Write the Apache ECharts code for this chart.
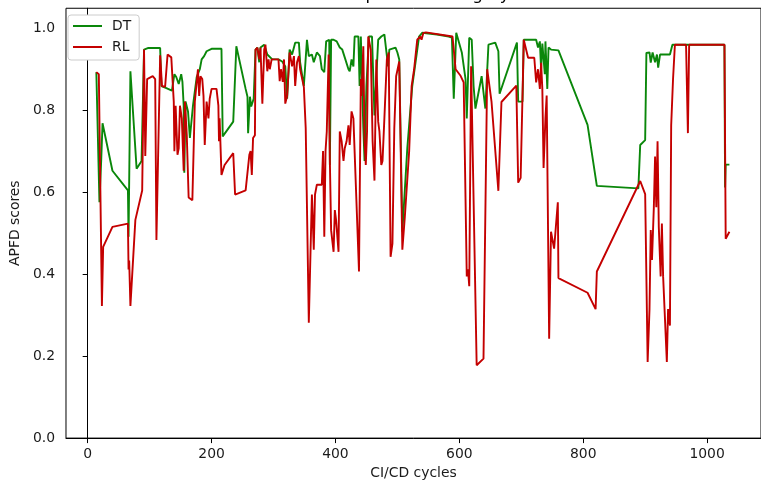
<!DOCTYPE html>
<html>
<head>
<meta charset="utf-8">
<script src="https://cdn.jsdelivr.net/npm/echarts@6/dist/echarts.min.js"></script>
<style>
  html, body { margin: 0; padding: 0; background: #fff; }
  #chart { width: 761px; height: 485px; }
</style>
</head>
<body>
<div id="chart"></div>
<script>
// APFD score per CI/CD cycle for the two prioritization strategies
const dtCycles = [14, 19, 22, 24, 40, 65, 66, 69, 79, 87, 91, 98, 117, 119, 127, 136, 140, 143, 147, 151,
  153, 155, 156, 158, 162, 165, 170, 176, 181, 184, 188, 192, 195, 200, 216, 218, 235, 240, 255, 258,
  259, 262, 264, 268, 271, 274, 277, 279, 285, 290, 298, 308, 314, 319, 322, 326, 330, 335, 341, 343,
  349, 354, 357, 362, 365, 370, 375, 378, 382, 385, 390, 391, 393, 397, 402, 407, 411, 415, 421, 423,
  426, 429, 431, 437, 439, 441, 445, 447, 450, 454, 459, 463, 469, 474, 479, 485, 487, 497, 500, 503,
  508, 516, 524, 535, 540, 564, 583, 588, 591, 595, 604, 610, 612, 616, 620, 623, 626, 636, 642, 647,
  658, 663, 665, 693, 695, 702, 704, 724, 727, 730, 732, 734, 738, 739, 742, 744, 748, 760, 807, 822,
  889, 892, 900, 902, 907, 909, 912, 916, 919, 921, 924, 940, 944, 1028, 1029, 1030, 1036];
const dtScores = [0.894, 0.576, 0.684, 0.769, 0.653, 0.605, 0.492, 0.896, 0.658, 0.677, 0.949, 0.953, 0.953, 0.860, 0.855, 0.849, 0.889, 0.882, 0.865, 0.889,
  0.870, 0.812, 0.648, 0.822, 0.798, 0.733, 0.812, 0.882, 0.901, 0.925, 0.933, 0.945, 0.942, 0.951, 0.951, 0.737, 0.773, 0.957, 0.853, 0.834,
  0.745, 0.834, 0.810, 0.829, 0.949, 0.954, 0.918, 0.954, 0.961, 0.937, 0.925, 0.925, 0.920, 0.908, 0.829, 0.949, 0.937, 0.966, 0.966, 0.918,
  0.860, 0.973, 0.933, 0.937, 0.918, 0.942, 0.933, 0.901, 0.894, 0.969, 0.973, 0.667, 0.973, 0.973, 0.969, 0.954, 0.949, 0.930, 0.901, 0.896,
  0.925, 0.908, 0.981, 0.981, 0.860, 0.981, 0.757, 0.677, 0.860, 0.981, 0.981, 0.788, 0.973, 0.981, 0.986, 0.908, 0.949, 0.954, 0.942, 0.925,
  0.504, 0.708, 0.860, 0.981, 0.990, 0.986, 0.981, 0.978, 0.829, 0.990, 0.942, 0.877, 0.781, 0.978, 0.973, 0.860, 0.805, 0.884, 0.805, 0.961,
  0.966, 0.945, 0.841, 0.966, 0.822, 0.822, 0.973, 0.973, 0.954, 0.969, 0.901, 0.964, 0.889, 0.969, 0.853, 0.954, 0.949, 0.947, 0.765, 0.616,
  0.610, 0.716, 0.728, 0.941, 0.942, 0.917, 0.942, 0.918, 0.937, 0.905, 0.937, 0.937, 0.961, 0.961, 0.612, 0.668, 0.668];

const rlCycles = [14, 18, 23, 25, 40, 65, 66, 67, 69, 77, 88, 91, 93, 96, 105, 109, 111, 117, 120, 125,
  129, 135, 139, 140, 142, 145, 147, 149, 152, 155, 157, 160, 163, 169, 173, 178, 180, 182, 185, 187,
  189, 192, 195, 197, 200, 208, 211, 212, 213, 216, 221, 235, 238, 255, 261, 263, 265, 267, 270, 271,
  274, 277, 279, 282, 285, 287, 290, 292, 294, 297, 308, 310, 312, 315, 317, 319, 322, 326, 330, 333,
  335, 338, 341, 343, 349, 352, 357, 362, 365, 367, 370, 378, 380, 382, 384, 386, 389, 391, 393, 397,
  399, 401, 405, 407, 410, 413, 415, 418, 421, 423, 426, 429, 438, 441, 442, 445, 447, 449, 451, 453,
  457, 460, 463, 466, 469, 471, 474, 476, 479, 483, 486, 489, 492, 495, 498, 503, 508, 512, 519, 523,
  527, 532, 537, 539, 542, 546, 589, 594, 602, 607, 612, 614, 616, 619, 628, 639, 645, 652, 663, 668,
  692, 695, 699, 704, 707, 711, 721, 724, 727, 730, 732, 734, 736, 739, 741, 745, 748, 751, 753, 759,
  760, 807, 820, 822, 892, 900, 904, 907, 909, 911, 914, 916, 918, 920, 922, 925, 927, 929, 935, 937,
  940, 942, 945, 948, 966, 969, 971, 1028, 1030, 1036];
const rlScores = [0.894, 0.889, 0.323, 0.467, 0.516, 0.524, 0.412, 0.434, 0.323, 0.533, 0.605, 0.949, 0.689, 0.877, 0.884, 0.877, 0.484, 0.935, 0.860, 0.858,
  0.937, 0.930, 0.822, 0.701, 0.812, 0.692, 0.708, 0.812, 0.781, 0.653, 0.822, 0.740, 0.588, 0.581, 0.822, 0.901, 0.836, 0.884, 0.877, 0.836,
  0.716, 0.822, 0.781, 0.829, 0.853, 0.853, 0.812, 0.725, 0.781, 0.643, 0.667, 0.696, 0.595, 0.605, 0.692, 0.701, 0.643, 0.733, 0.740, 0.949,
  0.954, 0.925, 0.954, 0.817, 0.949, 0.961, 0.896, 0.925, 0.901, 0.925, 0.925, 0.872, 0.901, 0.870, 0.925, 0.817, 0.836, 0.942, 0.908, 0.933,
  0.860, 0.918, 0.933, 0.901, 0.858, 0.757, 0.282, 0.595, 0.460, 0.595, 0.619, 0.619, 0.701, 0.492, 0.701, 0.749, 0.937, 0.677, 0.508, 0.455,
  0.557, 0.533, 0.455, 0.749, 0.725, 0.677, 0.708, 0.725, 0.764, 0.716, 0.798, 0.781, 0.407, 0.877, 0.836, 0.957, 0.725, 0.667, 0.749, 0.981,
  0.949, 0.725, 0.629, 0.925, 0.773, 0.749, 0.667, 0.677, 0.781, 0.925, 0.942, 0.443, 0.475, 0.757, 0.884, 0.920, 0.460, 0.540, 0.701, 0.860,
  0.901, 0.973, 0.981, 0.973, 0.990, 0.991, 0.981, 0.901, 0.885, 0.869, 0.395, 0.412, 0.371, 0.908, 0.178, 0.194, 0.901, 0.821, 0.604, 0.821,
  0.861, 0.624, 0.636, 0.973, 0.973, 0.929, 0.929, 0.869, 0.901, 0.853, 0.917, 0.853, 0.660, 0.781, 0.837, 0.243, 0.504, 0.504, 0.463, 0.576,
  0.391, 0.355, 0.315, 0.407, 0.628, 0.596, 0.186, 0.315, 0.508, 0.435, 0.564, 0.688, 0.564, 0.725, 0.516, 0.395, 0.524, 0.395, 0.186, 0.315,
  0.275, 0.764, 0.877, 0.961, 0.961, 0.745, 0.961, 0.961, 0.487, 0.504];

const xTicks = [0, 200, 400, 600, 800, 1000];
const yTicks = [0, 0.2, 0.4, 0.6, 0.8, 1.0];

const pairs = (xs, ys) => xs.map((x, i) => [x, ys[i]]);

const FONT = 'DejaVu Sans';
const INK = '#1a1a1a';
const DT_COLOR = '#0a870a';
const RL_COLOR = '#c40000';

const chart = echarts.init(document.getElementById('chart'), null, { renderer: 'canvas' });

chart.setOption({
  animation: false,
  backgroundColor: '#ffffff',
  textStyle: { fontFamily: FONT },
  graphic: [{
    type: 'text',
    x: 413,
    y: 4,
    silent: true,
    style: {
      text: 'APFD per test category',
      font: '16.7px "DejaVu Sans"',
      fill: '#000',
      textAlign: 'center',
      textVerticalAlign: 'bottom'
    }
  }],
  grid: {
    left: 62, top: 8.25, right: -3, bottom: 41,
    show: true, borderColor: '#000', borderWidth: 1, containLabel: false
  },
  legend: {
    orient: 'vertical',
    left: 68, top: 15,
    padding: [3, 8, 5, 5],
    icon: 'rect',
    itemWidth: 29, itemHeight: 2, itemGap: 5,
    backgroundColor: '#fff',
    borderColor: '#cccccc', borderWidth: 1, borderRadius: 3,
    textStyle: { fontFamily: FONT, fontSize: 13.9, color: INK, padding: [0, 0, 0, 5], lineHeight: 16 },
    data: ['DT', 'RL']
  },
  xAxis: {
    type: 'value',
    min: -35, max: 1087,
    name: 'CI/CD cycles',
    nameLocation: 'middle',
    nameGap: 26,
    nameTextStyle: { fontFamily: FONT, fontSize: 13.9, color: INK },
    axisLine: { show: true, lineStyle: { color: '#000', width: 1 } },
    axisTick: { show: true, length: 5, lineStyle: { color: '#000' }, customValues: xTicks },
    axisLabel: {
      fontFamily: FONT, fontSize: 13.9, color: INK, margin: 9, customValues: xTicks,
      formatter: v => String(v)
    },
    splitLine: { show: false }
  },
  yAxis: {
    type: 'value',
    min: 0, max: 1.05,
    name: 'APFD scores',
    nameLocation: 'middle',
    nameGap: 40,
    nameTextStyle: { fontFamily: FONT, fontSize: 13.9, color: INK },
    axisLine: { show: true, lineStyle: { color: '#000', width: 1 } },
    axisTick: { show: true, length: 5, lineStyle: { color: '#000' }, customValues: yTicks },
    axisLabel: {
      fontFamily: FONT, fontSize: 13.9, color: INK, margin: 11, customValues: yTicks,
      formatter: v => v.toFixed(1)
    },
    splitLine: { show: false }
  },
  series: [
    {
      name: 'DT', type: 'line', data: pairs(dtCycles, dtScores),
      symbol: 'none', color: DT_COLOR,
      lineStyle: { color: DT_COLOR, width: 1.9 }, z: 2
    },
    {
      name: 'RL', type: 'line', data: pairs(rlCycles, rlScores),
      symbol: 'none', color: RL_COLOR,
      lineStyle: { color: RL_COLOR, width: 1.9 }, z: 3
    }
  ]
});
</script>
</body>
</html>
